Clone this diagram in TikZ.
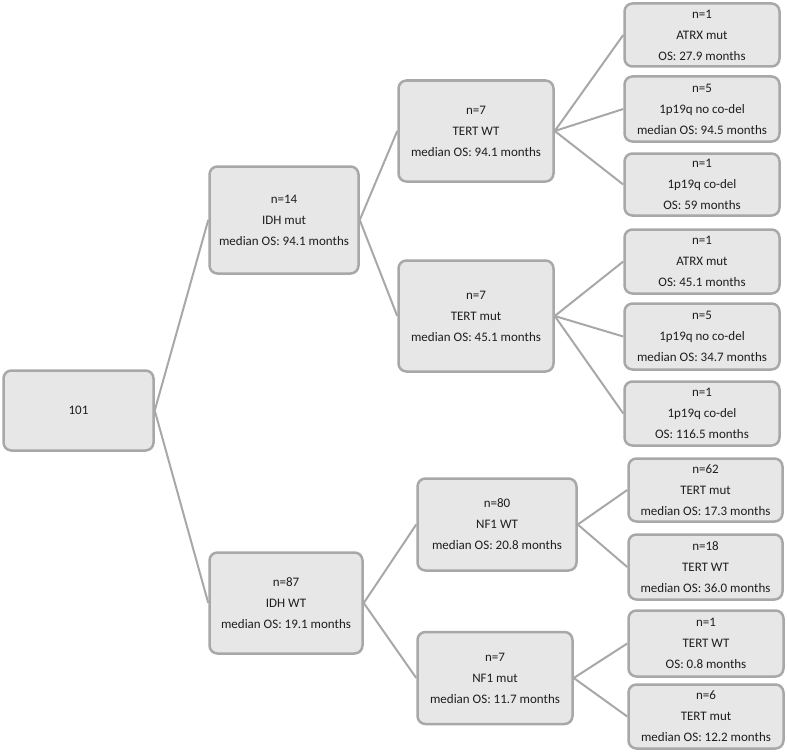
\documentclass[tikz,border=0pt]{standalone}
\usepackage{fontspec}
\setmainfont{Carlito}
\definecolor{boxfill}{HTML}{E7E7E7}
\definecolor{boxline}{HTML}{A8A8A8}
\definecolor{txt}{HTML}{1E1E1E}
\begin{document}
\begin{tikzpicture}[x=1pt,y=-1pt,
  box/.style={draw=boxline, line width=2.5pt, fill=boxfill, rounded corners=8pt,
    align=center, text=txt, inner sep=0pt,
    font=\fontsize{13}{21}\selectfont},
  link/.style={draw=boxline, line width=2pt}]
\useasboundingbox (0,0) rectangle (787,752);
% root and first level
\node[box, minimum width=150pt, minimum height=80pt] (root) at (78.5,410.5) {101};
\node[box, minimum width=149pt, minimum height=107pt] (idhmut) at (284,220) {n=14\\IDH mut\\median OS: 94.1 months};
\node[box, minimum width=153pt, minimum height=101pt] (idhwt) at (286,603) {n=87\\IDH WT\\median OS: 19.1 months};
% second level
\node[box, minimum width=155pt, minimum height=101pt] (tertwt) at (476,131) {n=7\\TERT WT\\median OS: 94.1 months};
\node[box, minimum width=155pt, minimum height=111pt] (tertmut) at (476,316) {n=7\\TERT mut\\median OS: 45.1 months};
\node[box, minimum width=159pt, minimum height=92pt] (nfwt) at (497,524.5) {n=80\\NF1 WT\\median OS: 20.8 months};
\node[box, minimum width=155pt, minimum height=92pt] (nfmut) at (495,678) {n=7\\NF1 mut\\median OS: 11.7 months};
% leaves
\node[box, minimum width=155pt, minimum height=63pt] (l1) at (702,35) {n=1\\ATRX mut\\OS: 27.9 months};
\node[box, minimum width=155pt, minimum height=65pt] (l2) at (702,109) {n=5\\1p19q no co-del\\median OS: 94.5 months};
\node[box, minimum width=155pt, minimum height=62pt] (l3) at (702,184.5) {n=1\\1p19q co-del\\OS: 59 months};
\node[box, minimum width=155pt, minimum height=64pt] (l4) at (702,261.5) {n=1\\ATRX mut\\OS: 45.1 months};
\node[box, minimum width=155pt, minimum height=66pt] (l5) at (702,336.5) {n=5\\1p19q no co-del\\median OS: 34.7 months};
\node[box, minimum width=155pt, minimum height=64pt] (l6) at (702,413.5) {n=1\\1p19q co-del\\OS: 116.5 months};
\node[box, minimum width=154pt, minimum height=63pt] (l7) at (705.5,490) {n=62\\TERT mut\\median OS: 17.3 months};
\node[box, minimum width=154pt, minimum height=65pt] (l8) at (705.5,567) {n=18\\TERT WT\\median OS: 36.0 months};
\node[box, minimum width=155pt, minimum height=66pt] (l9) at (706,643.5) {n=1\\TERT WT\\OS: 0.8 months};
\node[box, minimum width=155pt, minimum height=64pt] (l10) at (706,716.5) {n=6\\TERT mut\\median OS: 12.2 months};
% connectors
\draw[link] (root.east) -- (idhmut.west);
\draw[link] (root.east) -- (idhwt.west);
\draw[link] (idhmut.east) -- (tertwt.west);
\draw[link] (idhmut.east) -- (tertmut.west);
\draw[link] (idhwt.east) -- (nfwt.west);
\draw[link] (idhwt.east) -- (nfmut.west);
\draw[link] (tertwt.east) -- (l1.west);
\draw[link] (tertwt.east) -- (l2.west);
\draw[link] (tertwt.east) -- (l3.west);
\draw[link] (tertmut.east) -- (l4.west);
\draw[link] (tertmut.east) -- (l5.west);
\draw[link] (tertmut.east) -- (l6.west);
\draw[link] (nfwt.east) -- (l7.west);
\draw[link] (nfwt.east) -- (l8.west);
\draw[link] (nfmut.east) -- (l9.west);
\draw[link] (nfmut.east) -- (l10.west);
\end{tikzpicture}
\end{document}
